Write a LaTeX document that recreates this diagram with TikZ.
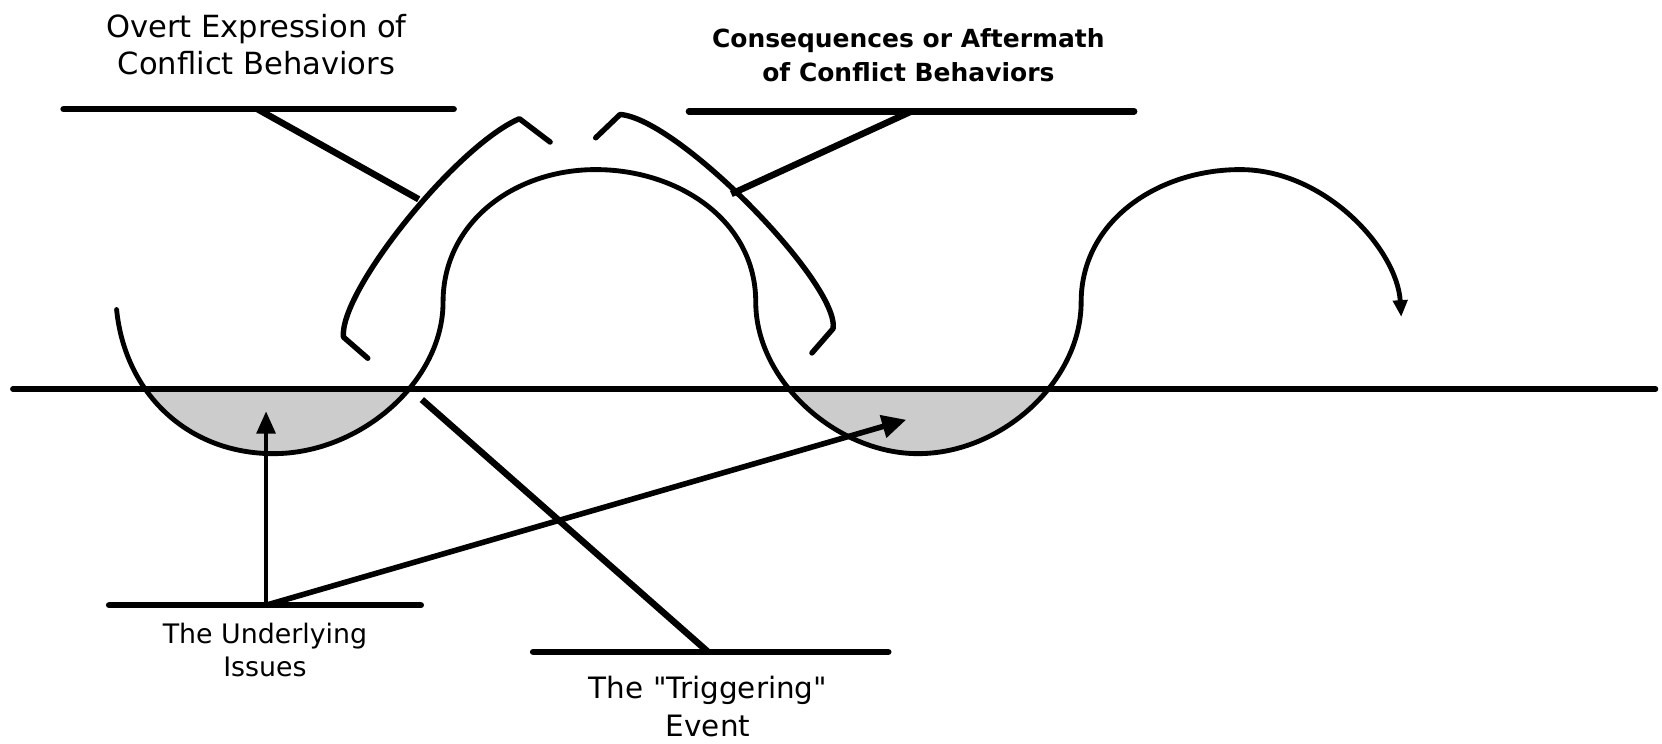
\documentclass[tikz,border=0pt]{standalone}
\usepackage{fontspec}
\setmainfont{DejaVu Sans}
\usetikzlibrary{arrows.meta, positioning}

\begin{document}
\begin{tikzpicture}[x=0.1mm,y=-0.1mm,
  bar/.style={line width=1.75pt,line cap=round},
  wave/.style={line width=1.3pt,line join=round,line cap=round},
  lbl/.style={align=center,inner sep=0pt}]
\useasboundingbox (0,0) rectangle (1568,701);
% 網掛け
\begin{scope}
  \clip (0,367) rectangle (1568,701);
  \fill[black!20] (110,292) .. controls (118,372) and (178,428) .. (258,428)
    .. controls (340,428) and (418,360) .. (418,285) -- cycle;
  \fill[black!20] (713,285) .. controls (713,360) and (790,428) .. (866,428)
    .. controls (945,428) and (1020,360) .. (1020,285) -- cycle;
\end{scope}
\draw[line width=1.4pt,line cap=round] (12,367) -- (1562,367); %軸
% 波
\draw[wave,-{Triangle[length=4.5pt,width=3.8pt]}] (110,292)
  .. controls (118,372) and (178,428) .. (258,428)
  .. controls (340,428) and (418,360) .. (418,285)
  .. controls (418,210) and (485,160) .. (562,160)
  .. controls (640,160) and (713,208) .. (713,285)
  .. controls (713,360) and (790,428) .. (866,428)
  .. controls (945,428) and (1020,360) .. (1020,285)
  .. controls (1020,208) and (1093,160) .. (1170,160)
  .. controls (1250,160) and (1318,235) .. (1322,299);
% かっこ
\draw[wave,line width=1.45pt] (347,338) -- (324,318)
  .. controls (320,275) and (430,138) .. (490,112) -- (519,134); %左
\draw[wave,line width=1.45pt] (562,130) -- (585,108)
  .. controls (640,112) and (792,268) .. (786,310) -- (766,333); %右
% ラベル
\node[lbl,font=\fontsize{8.2}{9.8}\selectfont] (overt) at (242,42)
  {Overt Expression of\\Conflict Behaviors};
\node[lbl,font=\bfseries\fontsize{6.7}{9.3}\selectfont] (conseq) at (857,52)
  {Consequences or Aftermath\\of Conflict Behaviors};
\node[lbl,font=\fontsize{7.2}{8.8}\selectfont] (issues) at (250,613)
  {The Underlying\\Issues};
\node[lbl,font=\fontsize{7.9}{10.2}\selectfont] (trigger) at (668,667)
  {The \textquotedbl Triggering\textquotedbl\\Event};
% 台の線
\draw[bar] (60,103) -- (428,103); %左上
\draw[bar] (650,105) -- (1070,105); %右上
\draw[bar] (103,571) -- (397,571); %左下
\draw[bar] (503,615) -- (838,615); %下
\coordinate (overtfoot) at (243,103);
\coordinate (overttip) at (395,188);
\coordinate (conseqfoot) at (860,105);
\coordinate (conseqtip) at (690,183);
\coordinate (triggerfoot) at (668,615);
\coordinate (triggertip) at (398,377);
\coordinate (issuesfoot) at (251,571);
\coordinate (issuesup) at (251,388);
\coordinate (issuesright) at (855,396);
\draw[bar,line cap=butt] (overtfoot) -- (overttip);
\draw[bar,line cap=butt] (conseqfoot) -- (conseqtip);
\draw[bar,line cap=butt] (triggerfoot) -- (triggertip);
\draw[line width=1.1pt,-{Triangle[length=6pt,width=5pt]}] (issuesfoot) -- (issuesup);
\draw[line width=1.5pt,-{Triangle[length=6.5pt,width=6pt]}] (issuesfoot) -- (issuesright);
\end{tikzpicture}
\end{document}
